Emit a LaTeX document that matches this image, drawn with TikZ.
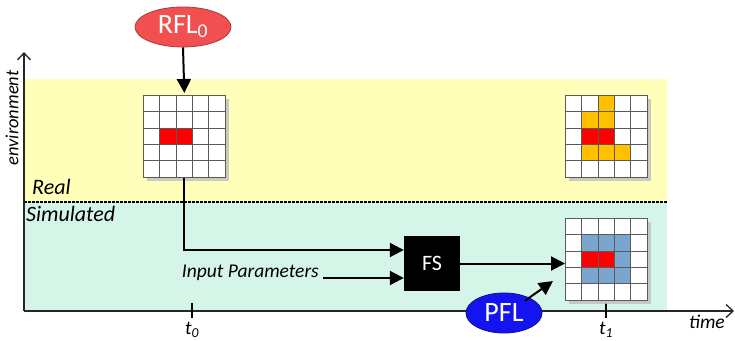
\documentclass[tikz,border=0pt]{standalone}
\usepackage{fontspec}
\setmainfont{Carlito}
\usetikzlibrary{arrows.meta,shapes.geometric,calc}
\definecolor{realbg}{RGB}{255,255,185}
\definecolor{simbg}{RGB}{213,245,232}
\definecolor{rflred}{RGB}{242,80,80}
\definecolor{pflblue}{RGB}{20,20,240}
\definecolor{cellblue}{RGB}{122,166,206}
\definecolor{cellorange}{RGB}{255,192,0}
\definecolor{gridline}{RGB}{90,90,90}
\tikzset{
  arr/.style={line width=2pt,-{Triangle[length=14pt,width=14pt]}},
  axis/.style={line width=1.3pt,draw=black!85,-{Straight Barb[length=7pt,width=13pt]}},
  gridframe/.style={draw=gridline,line width=0.8pt,minimum width=82pt,minimum height=82pt,inner sep=0pt,anchor=north west,fill=white},
  lbl/.style={font=\itshape\fontsize{19.5}{21}\selectfont,inner sep=0pt},
  biglbl/.style={font=\itshape\fontsize{22}{24}\selectfont,inner sep=0pt},
  flame/.style={ellipse,text=white,font=\fontsize{28}{30}\selectfont,inner sep=0pt},
}
\newcommand{\cellfill}[4]{% grid node, col, row, color
  \fill[#4] ($(#1.north west)+(#2*16.4,#3*16.4)$) rectangle ++(16.4,16.4);}
\newcommand{\gridlines}[1]{%
  \foreach \k in {1,...,4}{
    \draw[gridline,line width=0.6pt] ($(#1.north west)+(\k*16.4,0)$) -- ++(0,82);
    \draw[gridline,line width=0.6pt] ($(#1.north west)+(0,\k*16.4)$) -- ++(82,0);}
  \draw[gridline,line width=0.8pt] (#1.north west) rectangle (#1.south east);}
\begin{document}
\begin{tikzpicture}[x=1pt,y=-1pt]
\useasboundingbox (0,0) rectangle (735,340);
% bands
\fill[realbg] (24,79) rectangle (667,202);
\fill[simbg] (24,202) rectangle (667,311);
\draw[line width=1.3pt,dash pattern=on 2.5pt off 1.5pt] (24,202) -- (667,202);
% axes
\draw[axis] (24,311) -- (24,52);
\draw[axis] (24,311) -- (734,311);
\node[lbl,font=\itshape\fontsize{18.5}{20}\selectfont,rotate=90] (env) at (12,118) {environment};
\node[lbl,anchor=east] (time) at (725,322) {time};
\node[biglbl,anchor=west] (real) at (32,187) {Real};
\node[biglbl,anchor=west] (sim) at (26,214) {Simulated};
% ticks
\draw[line width=1.2pt] (192,303) -- (192,318);
\draw[line width=1.2pt] (606,303) -- (606,318);
\node[lbl,anchor=south] (t0) at (192,338) {t\textsubscript{0}};
\node[lbl,anchor=south] (t1) at (606,338) {t\textsubscript{1}};
% shadows
\foreach \x/\y in {143/95,565/95,565/218}{
  \fill[black!25,opacity=0.8] (\x+4,\y+4) rectangle ++(82,82);}
% grids
\node[gridframe] (g1) at (143,95) {};
\node[gridframe] (g2) at (565,95) {};
\node[gridframe] (g3) at (565,218) {};
\cellfill{g1}{1}{2}{red}\cellfill{g1}{2}{2}{red}
\gridlines{g1}
\cellfill{g2}{2}{0}{cellorange}
\cellfill{g2}{1}{1}{cellorange}\cellfill{g2}{2}{1}{cellorange}
\cellfill{g2}{1}{2}{red}\cellfill{g2}{2}{2}{red}
\cellfill{g2}{1}{3}{cellorange}\cellfill{g2}{2}{3}{cellorange}\cellfill{g2}{3}{3}{cellorange}
\gridlines{g2}
\cellfill{g3}{1}{1}{cellblue}\cellfill{g3}{2}{1}{cellblue}\cellfill{g3}{3}{1}{cellblue}
\cellfill{g3}{1}{2}{red}\cellfill{g3}{2}{2}{red}\cellfill{g3}{3}{2}{cellblue}
\cellfill{g3}{1}{3}{cellblue}\cellfill{g3}{2}{3}{cellblue}\cellfill{g3}{3}{3}{cellblue}
\gridlines{g3}
% FS box
\node[fill=black,minimum width=56pt,minimum height=55pt,text=white,font=\fontsize{22}{24}\selectfont,inner sep=0pt] (fs) at (432,263.5) {FS};
\node[lbl,anchor=east] (ip) at (319,273) {Input Parameters};
% ellipses
\node[flame,fill=rflred,draw=rflred!70!black,line width=0.8pt,minimum width=96pt,minimum height=40pt] (rfl) at (183,27) {RFL\textsubscript{0}};
% connectors
\draw[arr,shorten >=2pt] (rfl.south) -- (g1.north);
\draw[arr] (g1.south) |- ([yshift=13.5pt]fs.west);
\draw[arr] (ip.east |- 0,278) ++(4,0) coordinate (ipe) -- (ipe -| fs.west);
\draw[arr] (fs.east) -- (fs.east -| g3.west);
\node[flame,fill=pflblue,draw=pflblue!60!black,line width=0.8pt,minimum width=76pt,minimum height=40pt] (pfl) at (504,313) {PFL};
\coordinate (pfltip) at (553,281);
\draw[arr] (pfl.north east) ++(-6,2) coordinate (pfls) -- (pfltip);
\end{tikzpicture}
\end{document}
